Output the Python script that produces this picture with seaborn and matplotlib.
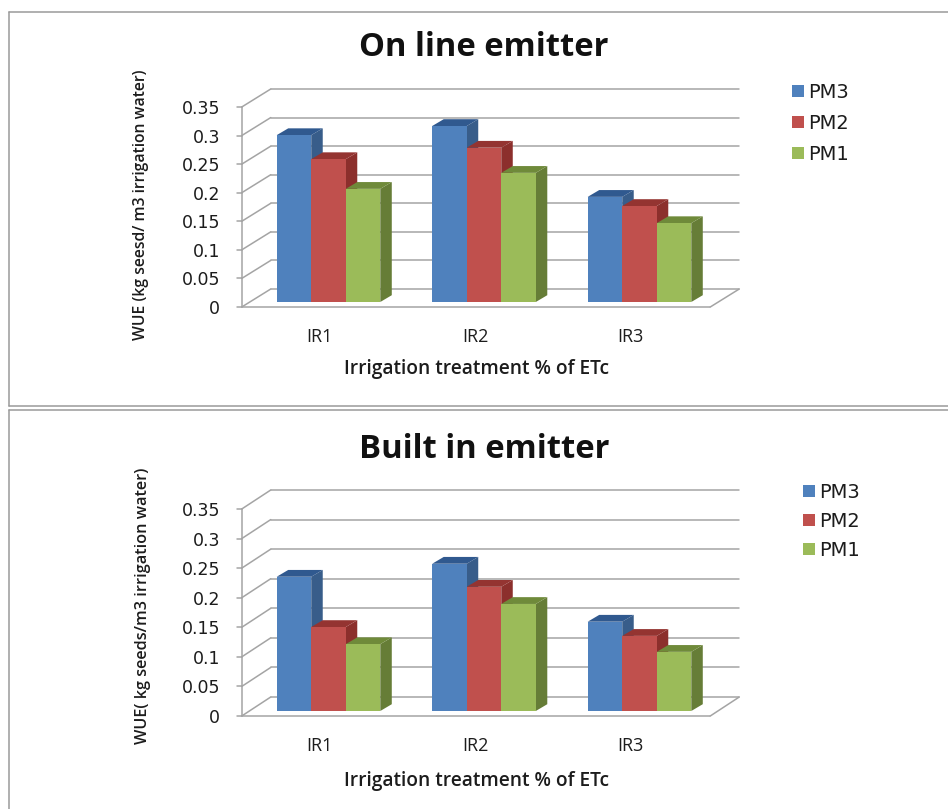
import matplotlib
matplotlib.use('Agg')
import matplotlib.pyplot as plt
from matplotlib.lines import Line2D
from matplotlib.patches import Polygon
import pandas as pd
import seaborn as sns

# values
treatments = ['IR1', 'IR2', 'IR3']
series_names = ['PM3', 'PM2', 'PM1']
online_pm3 = [0.292, 0.308, 0.184]
online_pm2 = [0.250, 0.270, 0.168]
online_pm1 = [0.198, 0.226, 0.138]
builtin_pm3 = [0.227, 0.249, 0.151]
builtin_pm2 = [0.142, 0.210, 0.127]
builtin_pm1 = [0.113, 0.181, 0.100]
y_ticks = [0, 0.05, 0.1, 0.15, 0.2, 0.25, 0.3, 0.35]
y_tick_labels = ['0', '0.05', '0.1', '0.15', '0.2', '0.25', '0.3', '0.35']

W, H = 948, 809
GRID = '#a4a4a4'
TEXT = '#1c1c1c'
FRONT = ['#4f81bd', '#c0504d', '#9bbb59']
SIDE = ['#385d8a', '#8c2f2c', '#667d37']
TOP = ['#30598f', '#943431', '#6f8a3a']

sns.set_style('white')
plt.rcParams['font.family'] = ['Open Sans', 'DejaVu Sans']

fig = plt.figure(figsize=(W / 100, H / 100), dpi=100)


def panel(values, title, ylabel, y_front, y_top, title_y, xlabel_y, ylabel_x, ylabel_y, ylabel_size,
          legend_top, legend_x, legend_gap, back_dy):
    df = pd.DataFrame({
        'treatment': treatments * 3,
        'series': [s for s in series_names for _ in treatments],
        'wue': [v for vals in values for v in vals],
    })
    left, right = 250.75, 717.25
    ax = fig.add_axes([left / W, 1 - y_front / H, (right - left) / W, (y_front - y_top) / H])
    ax.patch.set_alpha(0)
    sns.barplot(data=df, x='treatment', y='wue', hue='series', hue_order=series_names,
                palette=FRONT, saturation=1, width=0.666, gap=0, linewidth=0, ax=ax, zorder=3)

    # one pixel in data units
    px_x = 3 / (right - left)
    px_y = 0.35 / (y_front - y_top)
    offs = 5 * px_y
    ax.set_xlim(-0.5, 2.5)
    ax.set_ylim(-offs, 0.35 - offs)

    wall_x = -0.5 - 9 * px_x
    back_x = wall_x + 29 * px_x
    end_x = wall_x + 497.5 * px_x
    floor_x = wall_x + 468.5 * px_x
    dy = back_dy * px_y

    def line(xs, ys):
        ax.add_line(Line2D(xs, ys, color=GRID, lw=1.1, clip_on=False, zorder=1))

    for v in y_ticks:
        y = v - offs
        line([wall_x - 5 * px_x, wall_x], [y, y])
        line([wall_x, back_x], [y, y + dy])
        line([back_x, end_x], [y + dy, y + dy])
    line([wall_x, wall_x], [-offs, 0.35 - offs])
    line([wall_x, floor_x], [-offs, -offs])
    line([floor_x, end_x], [-offs, -offs + dy])

    # side and top faces of the 3d bars, taken from the drawn bars
    ddx = 11.5 * px_x
    ddy = 6.8 * px_y
    for s, cont in enumerate(ax.containers):
        for bar in cont:
            x0, x1 = bar.get_x(), bar.get_x() + bar.get_width()
            h = bar.get_height()
            ax.add_patch(Polygon([(x1, 0), (x1 + ddx, ddy), (x1 + ddx, h + ddy), (x1, h)],
                                 color=SIDE[s], lw=0, zorder=2, clip_on=False))
            ax.add_patch(Polygon([(x0, h), (x0 + ddx, h + ddy), (x1 + ddx, h + ddy), (x1, h)],
                                 color=TOP[s], lw=0, zorder=2, clip_on=False))

    ax.set_yticks([v - offs for v in y_ticks], labels=y_tick_labels)
    ax.set_xticks([i - 9 * px_x for i in range(3)], labels=treatments)
    ax.tick_params(axis='y', length=0, pad=22, labelsize=12.5, labelcolor=TEXT, labelfontfamily='DejaVu Sans')
    ax.tick_params(axis='x', length=0, pad=15, labelsize=13, labelcolor=TEXT)
    sns.despine(ax=ax, left=True, bottom=True)

    ax.set_xlabel('Irrigation treatment % of ETc', fontsize=13.8, fontweight='semibold', color=TEXT)
    ax.xaxis.set_label_coords((476 - left) / (right - left), (y_front - xlabel_y) / (y_front - y_top), transform=ax.transAxes)
    ax.xaxis.label.set_verticalalignment('center')
    ax.set_ylabel(ylabel, fontsize=ylabel_size, fontweight='semibold', color=TEXT)
    ax.yaxis.set_label_coords((ylabel_x - left) / (right - left), (y_front - ylabel_y) / (y_front - y_top), transform=ax.transAxes)
    ax.yaxis.label.set_verticalalignment('center')

    fig.text(484 / W, 1 - title_y / H, title, ha='center', va='center',
             fontsize=23.6, fontweight='bold', color='#111111')

    sns.move_legend(ax, 'upper left', bbox_to_anchor=(legend_x / W, 1 - legend_top / H),
                    bbox_transform=fig.transFigure, frameon=False, title=None, fontsize=14,
                    labelspacing=legend_gap, handlelength=0.6, handleheight=0.53, handletextpad=0.22,
                    borderpad=0, borderaxespad=0, labelcolor=TEXT)
    for txt in ax.get_legend().get_texts():
        txt.set_fontfamily('DejaVu Sans')


panel([online_pm3, online_pm2, online_pm1], 'On line emitter', 'WUE (kg seesd/ m3 irrigation water)',
      307, 107, 48, 369, 141, 205, 11.3, 83, 792, 0.62, 18)
panel([builtin_pm3, builtin_pm2, builtin_pm1], 'Built in emitter', 'WUE( kg seeds/m3 irrigation water)',
      716, 509, 449, 781, 143, 606, 11.7, 483, 803, 0.51, 19)

# frames around the two charts
for xs, ys in [([9, 948], [11.5, 11.5]), ([9, 948], [405.5, 405.5]), ([9, 9], [11.5, 405.5]),
               ([9, 948], [409.5, 409.5]), ([9, 9], [409.5, 809])]:
    fig.add_artist(Line2D([x / W for x in xs], [1 - y / H for y in ys], color='#9a9a9a', lw=1.1))

fig.savefig('out.png', dpi=100)
